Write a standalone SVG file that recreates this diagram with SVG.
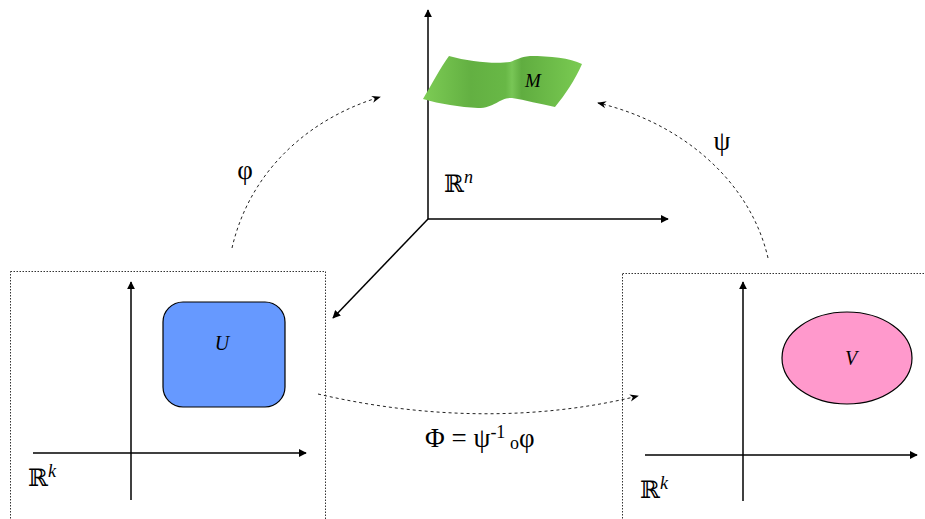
<svg xmlns="http://www.w3.org/2000/svg" width="925" height="519" viewBox="0 0 925 519">
  <defs>
    <marker id="arr" viewBox="0 0 10 10" refX="9" refY="5" markerWidth="8" markerHeight="8" markerUnits="userSpaceOnUse" orient="auto">
      <path d="M0,0 L10,5 L0,10 z" fill="#000"/>
    </marker>
    <marker id="arrs" viewBox="0 0 10 10" refX="9" refY="5" markerWidth="9" markerHeight="9" markerUnits="userSpaceOnUse" orient="auto">
      <path d="M0,1 L10,5 L0,9 L3,5 z" fill="#000"/>
    </marker>
    <linearGradient id="flag" x1="0" y1="0" x2="1" y2="0">
      <stop offset="0" stop-color="#7dcc55"/>
      <stop offset="0.3" stop-color="#63b042"/>
      <stop offset="0.52" stop-color="#68b846"/>
      <stop offset="0.56" stop-color="#78c656"/>
      <stop offset="0.62" stop-color="#60ad40"/>
      <stop offset="1" stop-color="#7acb52"/>
    </linearGradient>
  </defs>
  <style>
    .frame { fill: none; stroke: #333; stroke-width: 1; stroke-dasharray: 1.5 1.5; }
    .axis { fill: none; stroke: #000; stroke-width: 1.5; marker-end: url(#arr); }
    .map { fill: none; stroke: #222; stroke-width: 1; stroke-dasharray: 3 3; marker-end: url(#arrs); }
    .lbl { font-family: "Liberation Serif", "DejaVu Serif", serif; fill: #000; }
    .it { font-style: italic; }
  </style>
  <rect width="925" height="519" fill="#fff"/>

  <!-- chart domains -->
  <g id="domain-left">
    <rect class="frame" x="10.5" y="271.5" width="315" height="260"/>
    <line class="axis" x1="131" y1="500" x2="131" y2="282"/>
    <line class="axis" x1="33" y1="453" x2="306" y2="453"/>
    <text class="lbl" x="28" y="486" font-size="24">ℝ<tspan class="it" font-size="18" dy="-9">k</tspan></text>
  </g>
  <g id="set-U">
    <rect x="163" y="302" width="122" height="105" rx="20" fill="#6699ff" stroke="#000" stroke-width="1.2"/>
    <text class="lbl it" x="222" y="350" font-size="20" text-anchor="middle">U</text>
  </g>

  <g id="domain-right">
    <rect class="frame" x="622.5" y="273.5" width="320" height="260"/>
    <line class="axis" x1="743" y1="501" x2="743" y2="282"/>
    <line class="axis" x1="645" y1="455" x2="917" y2="455"/>
    <text class="lbl" x="640" y="498" font-size="24">ℝ<tspan class="it" font-size="18" dy="-9">k</tspan></text>
  </g>
  <g id="set-V">
    <ellipse cx="847" cy="358" rx="65" ry="46" fill="#ff99cc" stroke="#000" stroke-width="1.2"/>
    <text class="lbl it" x="851" y="365" font-size="20" text-anchor="middle">V</text>
  </g>

  <!-- ambient space -->
  <g id="ambient">
    <line class="axis" x1="428" y1="219" x2="428" y2="10"/>
    <line class="axis" x1="428" y1="219" x2="668" y2="219"/>
    <line class="axis" x1="428" y1="219" x2="333" y2="318"/>
    <text class="lbl" x="444" y="192" font-size="24">ℝ<tspan class="it" font-size="18" dy="-9">n</tspan></text>
  </g>
  <g id="manifold-M">
    <path d="M449,56 C470,62 495,64 510,62 C516,60 520,57 530,56 C550,56 570,58 582,64 C575,80 565,95 555,107 C540,104 525,100 512,98 C500,97 495,108 478,108 C460,107 440,104 423,99 C432,84 440,68 449,56 Z" fill="url(#flag)"/>
    <text class="lbl it" x="533" y="87" font-size="19" text-anchor="middle">M</text>
  </g>

  <!-- maps -->
  <g id="connectors">
    <path class="map" d="M232,248 C250,170 310,118 380,97"/>
    <path class="map" d="M768,258 C750,180 680,122 598,103"/>
    <path class="map" d="M318,394 C430,420 540,420 638,396"/>
  </g>
  <g id="labels">
    <text class="lbl" x="245" y="179" font-size="27" text-anchor="middle">φ</text>
    <text class="lbl" x="722" y="150" font-size="27" text-anchor="middle">ψ</text>
    <text class="lbl" x="425" y="447" font-size="27">Φ = ψ<tspan font-size="18" dy="-9">-1</tspan><tspan dy="11" font-size="18"> o</tspan><tspan dy="-2">φ</tspan></text>
  </g>
</svg>
